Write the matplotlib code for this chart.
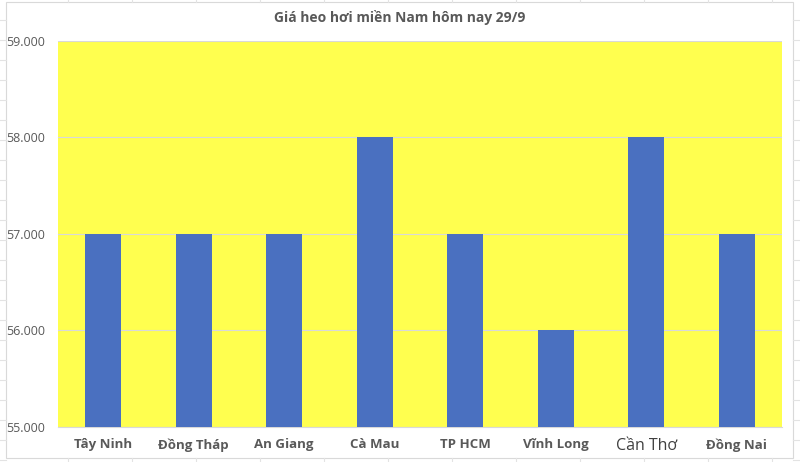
import matplotlib
matplotlib.use('Agg')
import matplotlib.pyplot as plt
from matplotlib.patches import Rectangle
from matplotlib.ticker import FuncFormatter

plt.rcParams['font.family'] = ['Open Sans', 'DejaVu Sans']

provinces = ['Tây Ninh', 'Đồng Tháp', 'An Giang', 'Cà Mau', 'TP HCM',
             'Vĩnh Long', 'Cần Thơ', 'Đồng Nai']
prices = [57000, 57000, 57000, 58000, 57000, 56000, 58000, 57000]
yticks = [55000, 56000, 57000, 58000, 59000]
title = 'Giá heo hơi miền Nam hôm nay 29/9'

text_grey = '#595959'

fig = plt.figure(figsize=(8, 4.62), dpi=100, facecolor='white')

# spreadsheet cell lines behind the chart
bg = fig.add_axes([0, 0, 1, 1], zorder=-2)
bg.set_xlim(0, 800)
bg.set_ylim(462, 0)
bg.axis('off')
for yy in range(20, 462, 20):
    bg.plot([0, 6], [yy, yy], color='#e3e3e3', lw=0.8)
    bg.plot([793, 800], [yy, yy], color='#e3e3e3', lw=0.8)
for xx in [68, 132, 196, 260, 324, 388, 452, 516, 580, 644, 708, 772]:
    bg.plot([xx, xx], [458, 462], color='#e3e3e3', lw=0.8)
    bg.plot([xx, xx], [0, 2], color='#e3e3e3', lw=0.8)
bg.add_patch(Rectangle((6, 2), 787, 456, facecolor='white', edgecolor='#d9d9d9', lw=0.8))

ax = fig.add_axes([0.0725, 0.0758, 0.905, 0.8355])
ax.set_facecolor('#ffff4f')
x = range(len(provinces))
ax.bar(x, prices, width=0.4, color='#4a70c0', zorder=3)

ax.set_ylim(yticks[0], yticks[-1])
ax.set_xlim(-0.5, len(provinces) - 0.5)
ax.set_yticks(yticks)
ax.yaxis.set_major_formatter(FuncFormatter(lambda v, p: f'{v:,.0f}'.replace(',', '.')))
ax.grid(axis='y', color='#d9d9d9', lw=0.8, zorder=1)
for s in ['top', 'right', 'left']:
    ax.spines[s].set_visible(False)
ax.spines['bottom'].set_color('#d9d9d9')
ax.tick_params(axis='both', length=0, colors=text_grey)
ax.tick_params(axis='y', labelsize=9, pad=9)
ax.tick_params(axis='x', pad=8)

ax.set_xticks(list(x))
ax.set_xticklabels(provinces, fontsize=9.5, fontweight='bold', color=text_grey)
# the "Cần Thơ" label is rendered in a larger, regular weight font
lbl = ax.get_xticklabels()[6]
lbl.set_fontweight('normal')
lbl.set_fontsize(11.5)
lbl.set_color('#404040')

fig.text(0.5, 0.962, title, ha='center', va='center', fontsize=10,
         fontweight='bold', color=text_grey)

fig.savefig('out.png', dpi=100, facecolor='white')
